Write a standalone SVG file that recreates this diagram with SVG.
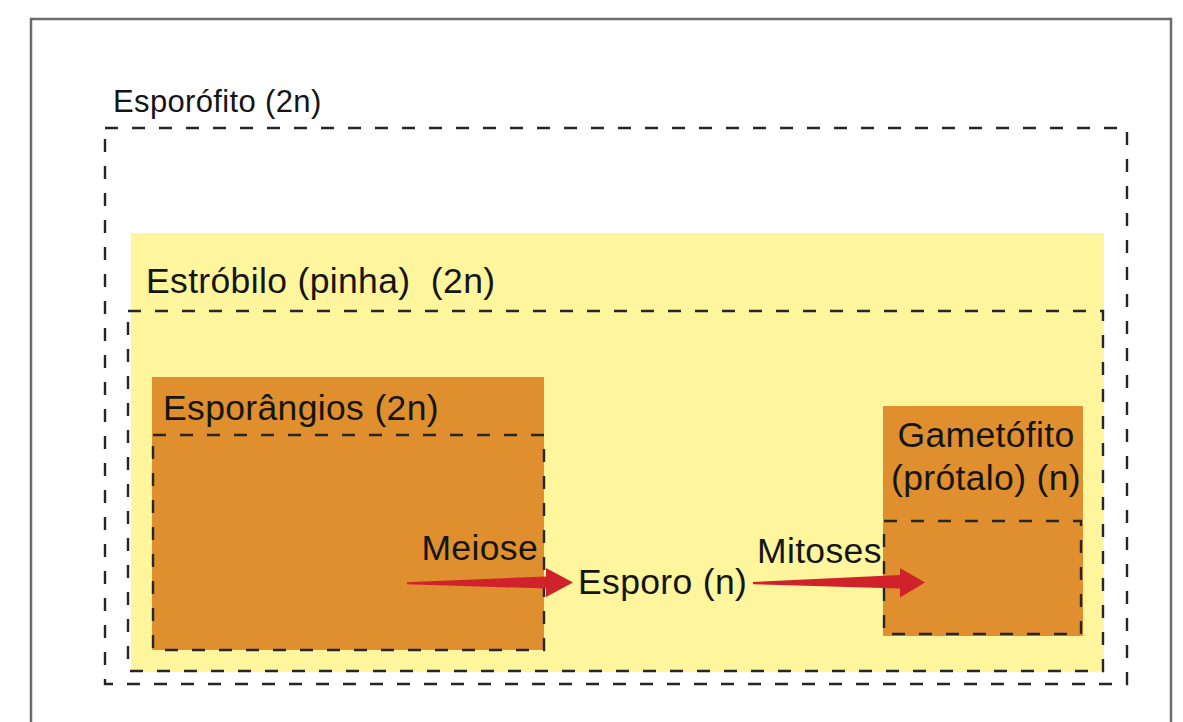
<svg xmlns="http://www.w3.org/2000/svg" width="1183" height="722" viewBox="0 0 1183 722">
  <style>
    .lbl { font-family: "Liberation Sans", Arial, Helvetica, sans-serif; fill: #151515; letter-spacing: 0.35px; }
    .big { font-size: 35.5px; }
    .small { font-size: 31px; }
    .dash { fill: none; stroke: #262626; stroke-width: 2.4; stroke-dasharray: 13 14; }
    .yellow { fill: #FFF59D; }
    .orange { fill: #DF8F2E; }
    .arrow { fill: #CF222B; }
  </style>
  <rect width="1183" height="722" fill="#ffffff"/>
  <g id="frame">
    <rect x="31" y="19" width="1140" height="720" fill="none" stroke="#6b6b6b" stroke-width="2.5"/>
  </g>
  <g id="esporofito">
    <rect class="dash" x="105" y="128" width="1022" height="556"/>
    <text class="lbl small" x="113" y="112">Esporófito (2n)</text>
  </g>
  <g id="estrobilo">
    <rect class="yellow" x="131" y="233" width="973" height="439"/>
    <rect class="dash" x="128" y="311" width="975" height="360"/>
    <text class="lbl big" x="146" y="293" xml:space="preserve">Estróbilo (pinha)  (2n)</text>
  </g>
  <g id="esporangios">
    <rect class="orange" x="152" y="377" width="392" height="273"/>
    <rect class="dash" x="153" y="435" width="391" height="215"/>
    <text class="lbl big" x="163" y="420">Esporângios (2n)</text>
  </g>
  <g id="gametofito">
    <rect class="orange" x="883" y="406" width="200" height="230"/>
    <rect class="dash" x="884" y="521" width="197" height="113"/>
    <text class="lbl big" x="986" y="447" text-anchor="middle">Gametófito</text>
    <text class="lbl big" x="986" y="490" text-anchor="middle">(prótalo) (n)</text>
  </g>
  <g id="esporo">
    <text class="lbl big" x="578" y="594">Esporo (n)</text>
  </g>
  <g id="connectors">
    <g id="meiose">
      <polygon class="arrow" points="407,582.3 546,576.5 546,568 573,582.5 546,597 546,588.5 407,584.3"/>
      <text class="lbl big" x="538" y="560" text-anchor="end">Meiose</text>
    </g>
    <g id="mitoses">
      <polygon class="arrow" points="753,582 900,575 900,568 925,582.5 900,597.5 900,588.5 753,584.2"/>
      <text class="lbl big" x="757" y="563">Mitoses</text>
    </g>
  </g>
</svg>
